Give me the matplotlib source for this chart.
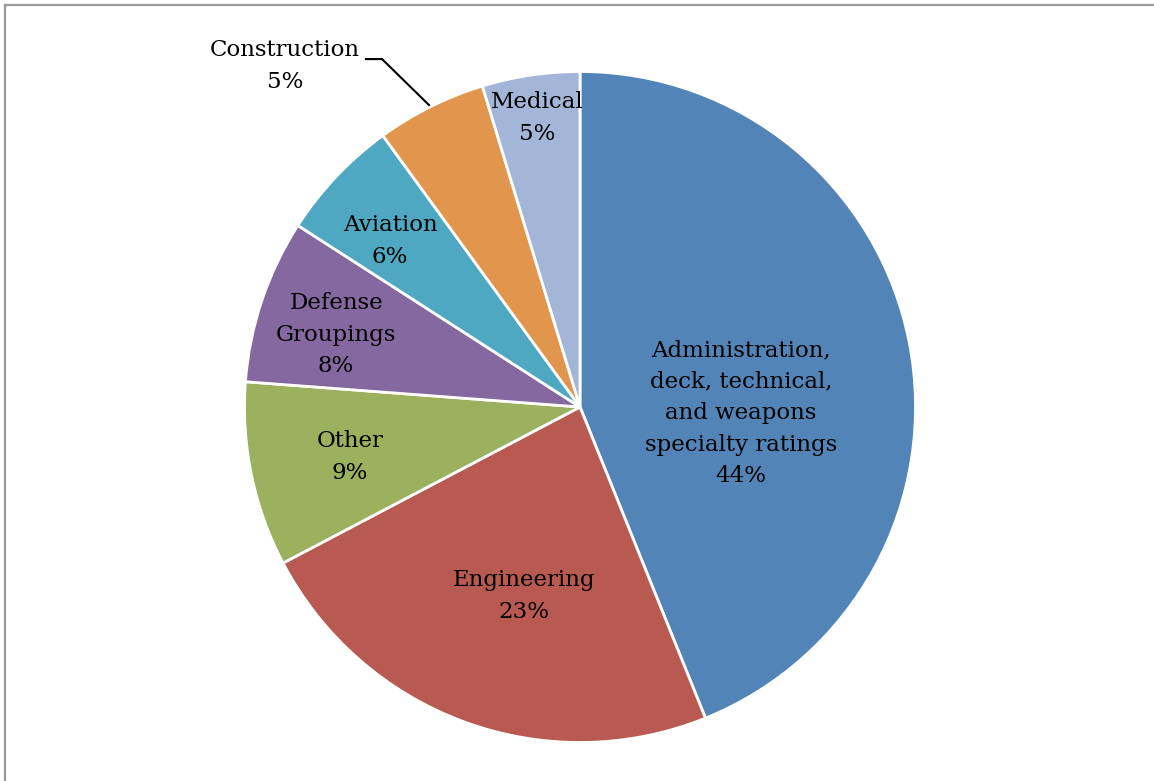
import matplotlib
matplotlib.use("Agg")
import matplotlib.pyplot as plt
from matplotlib.patches import Rectangle

categories = ["Administration,\ndeck, technical,\nand weapons\nspecialty ratings",
              "Engineering", "Other", "Defense\nGroupings", "Aviation",
              "Construction", "Medical"]
values = [43.9, 23.4, 8.9, 7.9, 5.9, 5.3, 4.7]
pct_labels = ["44%", "23%", "9%", "8%", "6%", "5%", "5%"]
colors = ["#5384B7", "#B95A52", "#9BB15D", "#8568A0", "#4FA8C1", "#E2964D", "#A3B6D8"]

# label positions (in units of pie radius)
label_pos = [(0.48, -0.018), (-0.167, -0.563), (-0.686, -0.149), (-0.727, 0.215),
             (-0.566, 0.495), (-0.879, 1.016), (-0.128, 0.861)]

W, H = 1154, 781
fig = plt.figure(figsize=(W / 100, H / 100), dpi=100)
fig.patch.set_facecolor("white")

cx, cy, R = 580, 781 - 407, 335.5
span = 1.2
side = 2 * span * R
ax = fig.add_axes([(cx - side / 2) / W, (cy - side / 2) / H, side / W, side / H])

wedges, _ = ax.pie(values, colors=colors, startangle=90, counterclock=False,
                   radius=1.0, wedgeprops=dict(edgecolor="white", linewidth=2))
ax.set_xlim(-span, span)
ax.set_ylim(-span, span)
ax.set_aspect("equal")
ax.axis("off")
for w in wedges:
    w.set_clip_on(False)

font = dict(family=["DejaVu Serif"], fontsize=16.5, color="#000000")
for cat, pct, (x, y) in zip(categories, pct_labels, label_pos):
    ax.text(x, y, f"{cat}\n{pct}", ha="center", va="center",
            linespacing=1.56, clip_on=False, **font)

# leader line for Construction
ax.plot([-0.638, -0.590, -0.450], [1.037, 1.037, 0.900], color="black",
        linewidth=1.5, clip_on=False, solid_joinstyle="miter")

# outer frame
fig.patches.append(Rectangle((5 / W, -0.1), 1.2, (H - 5) / H + 0.1,
                             transform=fig.transFigure, fill=False,
                             edgecolor="#999999", linewidth=1.6))

fig.savefig("out.png", dpi=100)
